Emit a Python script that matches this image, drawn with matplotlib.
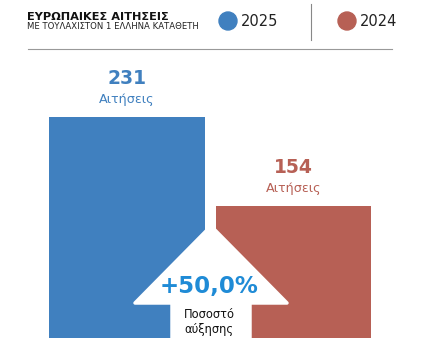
import matplotlib
matplotlib.use("Agg")
from matplotlib import pyplot as plt
from matplotlib.patches import Polygon, Circle
import numpy as np

plt.rcParams['font.family'] = ['DejaVu Sans']

TITLE = "ΕΥΡΩΠΑΙΚΕΣ ΑΙΤΗΣΕΙΣ"
SUBTITLE = "ΜΕ ΤΟΥΛΑΧΙΣΤΟΝ 1 ΕΛΛΗΝΑ ΚΑΤΑΘΕΤΗ"
years = ["2025", "2024"]
applications = [231, 154]
unit_label = "Αιτήσεις"
change_text = "+50,0%"
change_label = "Ποσοστό\nαύξησης"

BLUE = "#4080bf"
RED = "#b76055"
BRIGHT_BLUE = "#1f8bd6"
W, H = 437, 362

fig = plt.figure(figsize=(W / 100, H / 100), dpi=100)

# bars (clipped at the bottom like the original infographic)
ax = fig.add_axes([0, (H - 338) / H, 1, 338 / H])
ax.bar([0, 1], applications, width=0.937, color=[BLUE, RED])
ax.set_xlim(-0.763, 1.862)
ax.set_ylim(40, 332.2)
ax.axis("off")

for i, (v, c) in enumerate(zip(applications, [BLUE, RED])):
    ax.annotate(str(v), (i, v), xytext=(0, 28), textcoords="offset points",
                ha="center", va="center", fontsize=13.5, fontweight="bold", color=c)
    ax.annotate(unit_label, (i, v), xytext=(0, 12.5), textcoords="offset points",
                ha="center", va="center", fontsize=9.2, color=c)

# overlay in pixel coordinates
ov = fig.add_axes([0, 0, 1, 1])
ov.set_xlim(0, W)
ov.set_ylim(H, 0)
ov.axis("off")

arrow = Polygon([(172, 345), (172, 303), (135, 303), (211, 226),
                 (287, 303), (250, 303), (250, 345)],
                closed=True, facecolor="white", edgecolor="white",
                linewidth=2.5, joinstyle="round")
ov.add_patch(arrow)
ov.text(209, 286, change_text, ha="center", va="center", fontsize=16.5,
        fontweight="bold", color=BRIGHT_BLUE)
ov.text(209, 322, change_label, ha="center", va="center", fontsize=8.3,
        color="#111111", linespacing=1.2)

# header
ov.text(27, 16.5, TITLE, ha="left", va="center", fontsize=8.2, fontweight="bold",
        color="#111111")
ov.text(27, 26.5, SUBTITLE, ha="left", va="center", fontsize=6.1, color="#222222")
for x, yr, c in [(228, years[0], BLUE), (347, years[1], RED)]:
    ov.add_patch(Circle((x, 21), 9, color=c))
    ov.text(x + 13, 21.5, yr, ha="left", va="center", fontsize=10.5, color="#222222")
ov.plot([311, 311], [4, 40], color="#888888", linewidth=0.8)
ov.plot([28, 392], [49, 49], color="#999999", linewidth=0.8)

fig.savefig("out.png", dpi=100)
